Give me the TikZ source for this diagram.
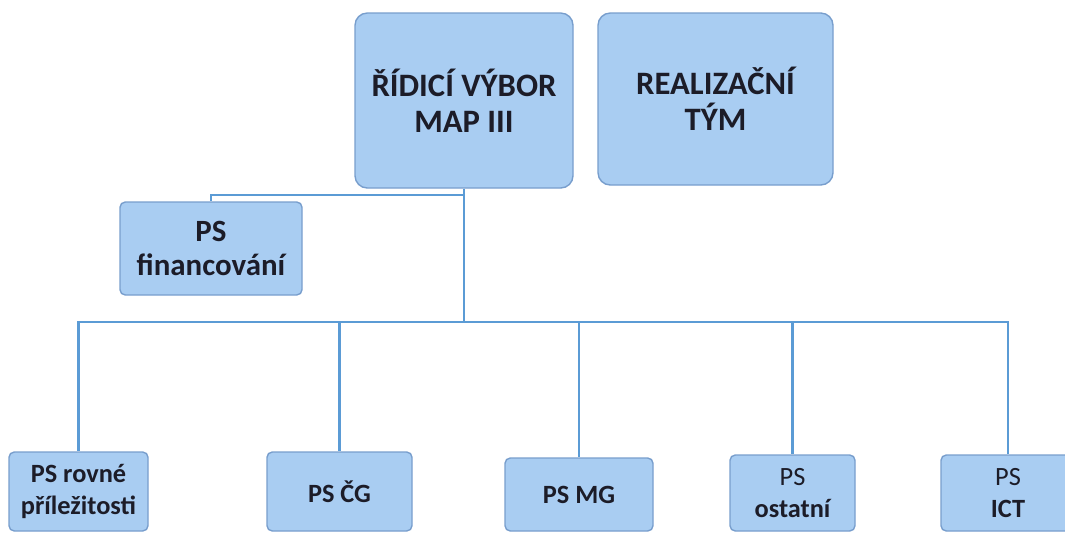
\documentclass[tikz,border=0pt]{standalone}
\usepackage{fontspec}
\setmainfont{Carlito}
\usepackage{xcolor}
\usepackage{tikz}
\usetikzlibrary{positioning}

\definecolor{boxfill}{RGB}{169,205,242}
\definecolor{boxline}{RGB}{120,158,205}
\definecolor{linkblue}{RGB}{91,155,213}
\definecolor{ink}{RGB}{28,28,40}

\tikzset{
  box/.style={draw=boxline, fill=boxfill, line width=0.8pt, text=ink,
    align=center, inner sep=0pt, rounded corners=3pt},
  bigbox/.style={box, rounded corners=7pt, font=\fontsize{18.6}{20.6}\selectfont\bfseries},
  psbox/.style={box, font=\fontsize{15}{18.5}\selectfont\bfseries},
  link/.style={draw=linkblue, line width=1.4pt}
}

\begin{document}
\begin{tikzpicture}[x=0.02cm, y=-0.02cm]
       \useasboundingbox (0,0) rectangle (1065,532);
       \clip (0,0) rectangle (1065,532);

       \node[bigbox, minimum width=218*0.02cm, minimum height=175*0.02cm] (vybor) at (464,100.5) {ŘÍDICÍ VÝBOR\\MAP III};
       \node[bigbox, minimum width=235*0.02cm, minimum height=172*0.02cm] (tym) at (715.5,99) {REALIZAČNÍ\\TÝM};
       \node[psbox, font=\fontsize{17.6}{19.5}\selectfont\bfseries,
             minimum width=182*0.02cm, minimum height=93*0.02cm] (fin) at (211,248.5) {PS\\financování};

       \node[psbox, minimum width=139*0.02cm, minimum height=79*0.02cm] (rovne) at (78.5,491.5) {PS rovné\\příležitosti};
       \node[psbox, minimum width=145*0.02cm, minimum height=79*0.02cm] (cg) at (339.5,491.5) {PS ČG};
       \node[psbox, minimum width=148*0.02cm, minimum height=73*0.02cm] (mg) at (579,494.5) {PS MG};
       \node[psbox, minimum width=125*0.02cm, minimum height=76*0.02cm] (ost) at (792.5,493) {\mdseries PS\\ostatní};
       \node[psbox, minimum width=134*0.02cm, minimum height=76*0.02cm] (ict) at (1008,493) {\mdseries PS\\ICT};

       \coordinate (fj) at (464,195);
       \coordinate (bus) at (464,322);

       \draw[link] (vybor.south) -- (bus);
       \draw[link] (fj) -| (fin.north);
       \foreach \ps in {rovne,cg,mg,ost,ict}
           \draw[link] (bus) -| (\ps.north);
    \end{tikzpicture}
\end{document}
